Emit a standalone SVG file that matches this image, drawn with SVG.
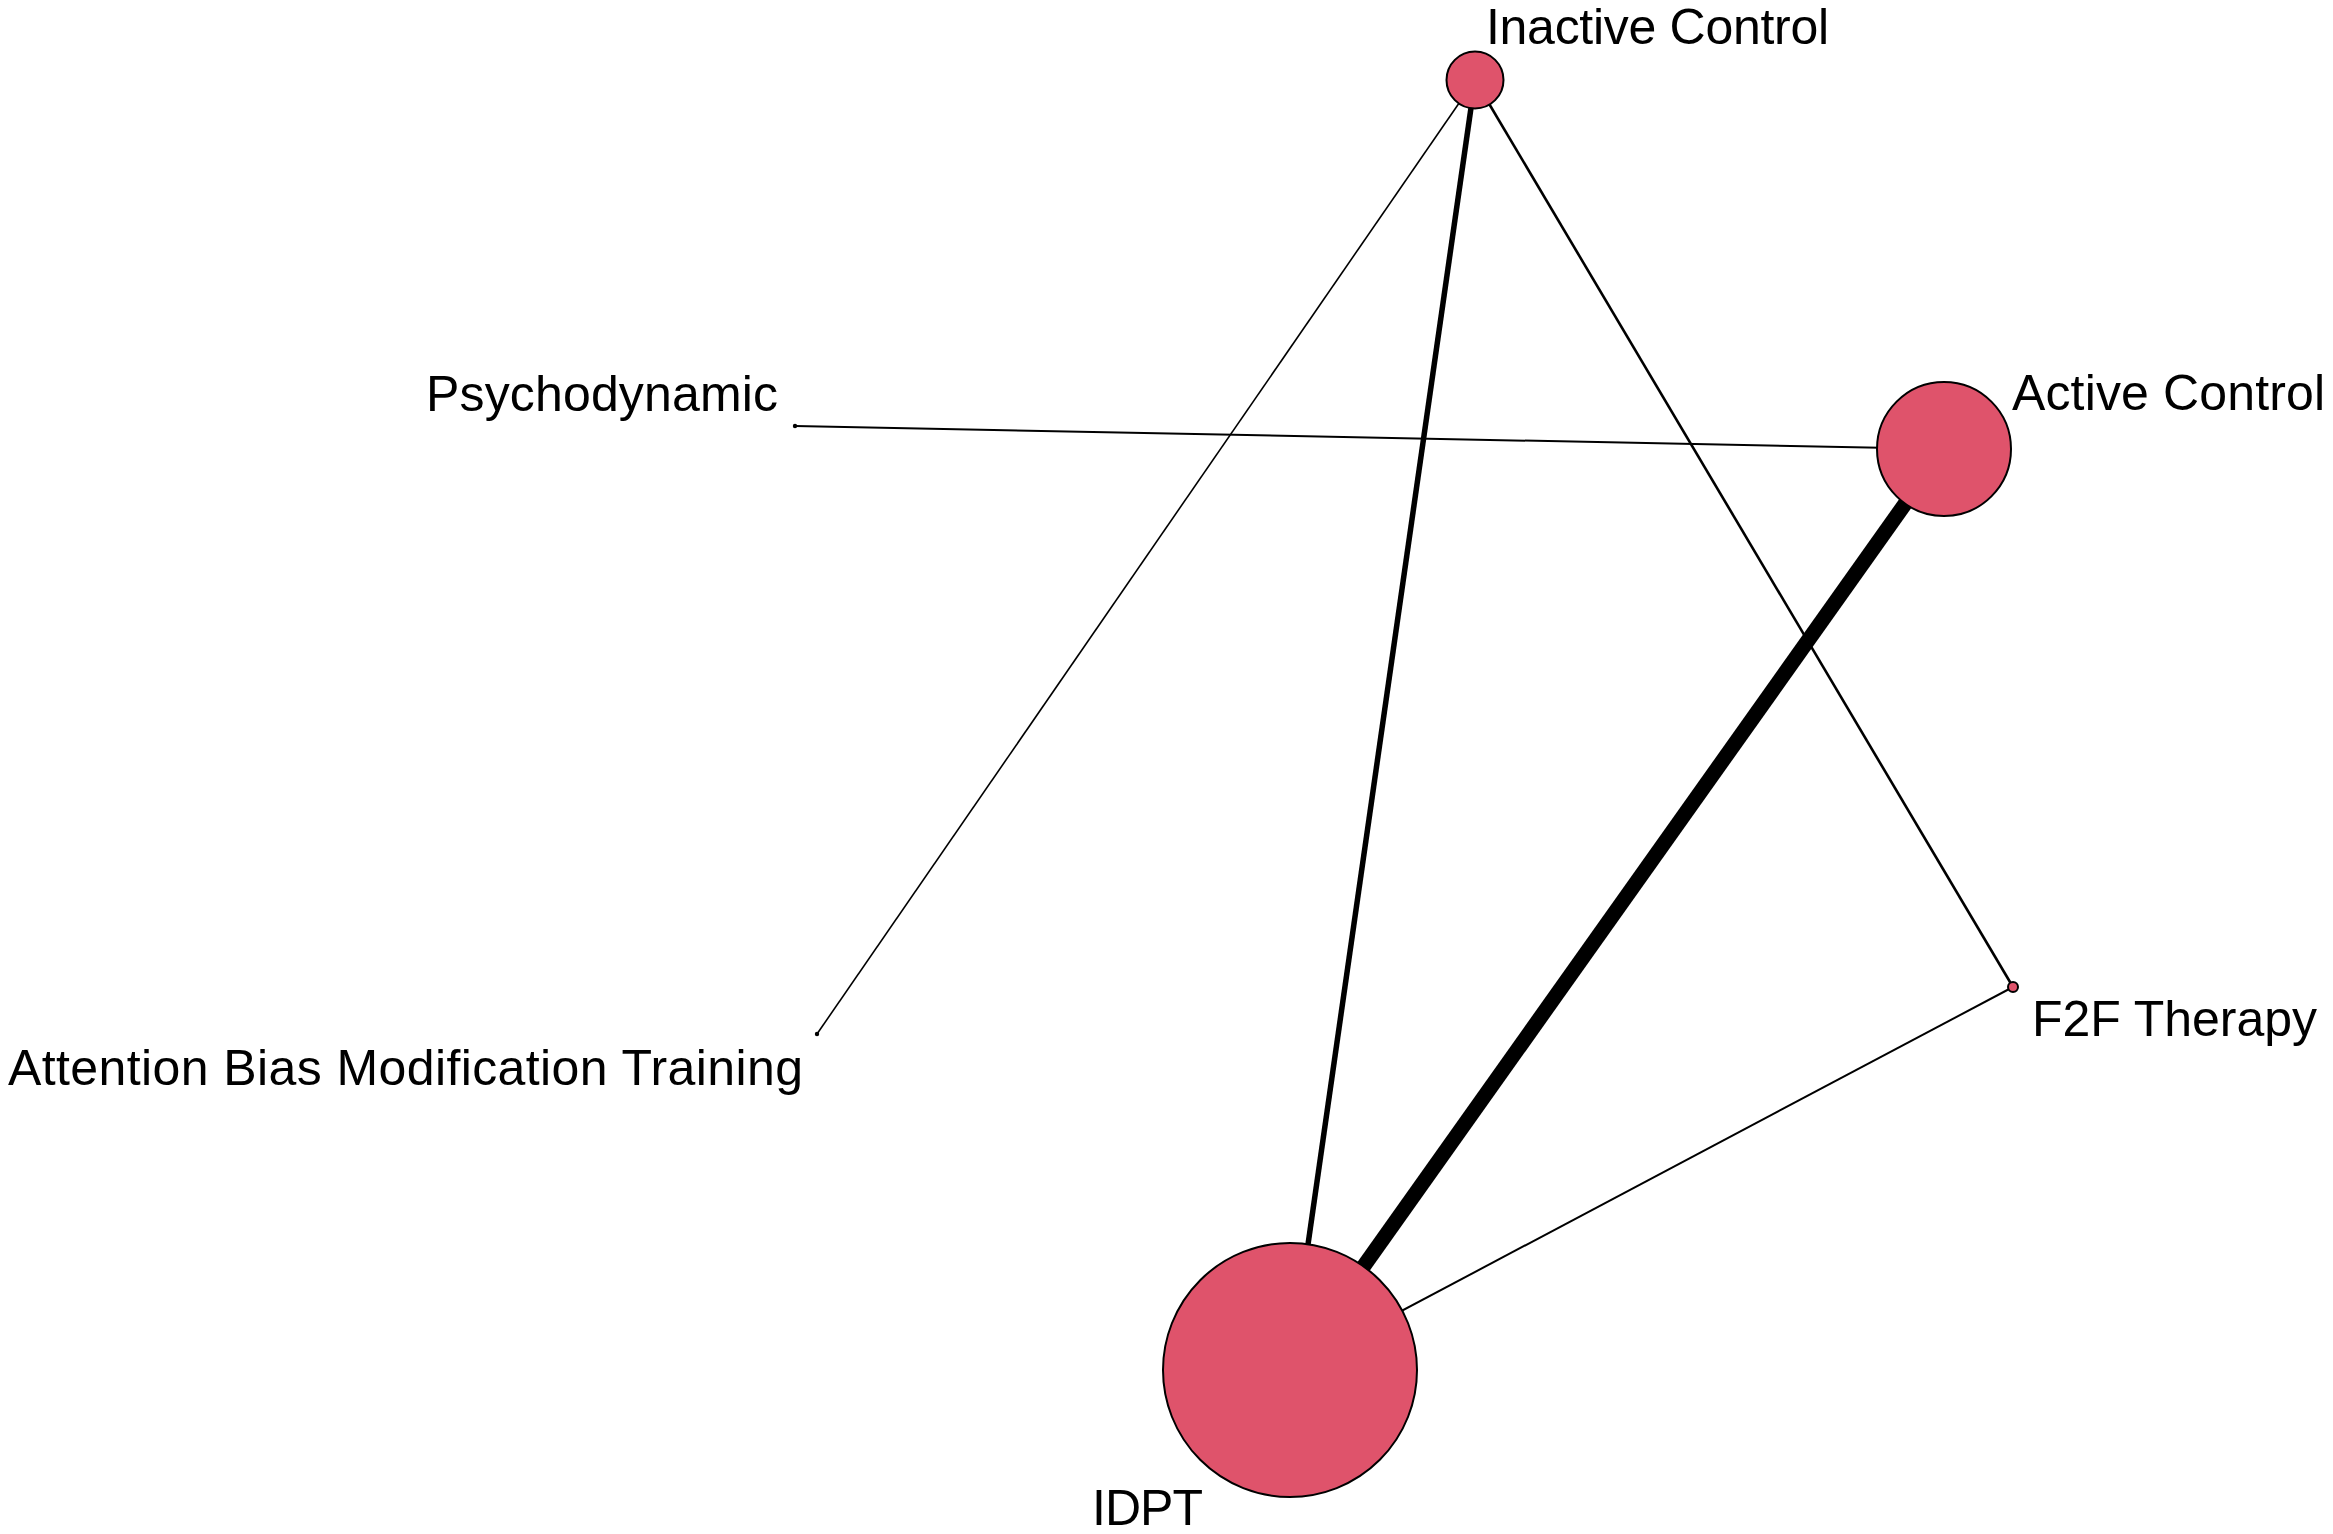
<svg xmlns="http://www.w3.org/2000/svg" width="2333" height="1534" viewBox="0 0 2333 1534">
<style>
.node{fill:#DF536B;stroke:#000;stroke-width:2}
.lbl{font-family:"Liberation Sans",Arial,sans-serif;font-size:50px;fill:#000}
.e{stroke:#000;stroke-linecap:butt;fill:none}
</style>
<rect width="2333" height="1534" fill="#fff"/>
<g id="connectors">
<line class="e" x1="1475" y1="80" x2="817" y2="1034" stroke-width="1.6"/>
<line class="e" x1="795" y1="426" x2="1944" y2="449" stroke-width="2"/>
<line class="e" x1="1475" y1="80" x2="2013" y2="987" stroke-width="2.6"/>
<line class="e" x1="2013" y1="987" x2="1290" y2="1370" stroke-width="2"/>
<line class="e" x1="1475" y1="80" x2="1290" y2="1370" stroke-width="5.5"/>
<line class="e" x1="1944" y1="449" x2="1290" y2="1370" stroke-width="15"/>
</g>
<g id="node-inactive-control">
<circle class="node" cx="1475" cy="80" r="28.5"/>
<text class="lbl" x="1486" y="44" textLength="343">Inactive Control</text>
</g>
<g id="node-active-control">
<circle class="node" cx="1944" cy="449" r="67"/>
<text class="lbl" x="2012" y="410" textLength="313">Active Control</text>
</g>
<g id="node-psychodynamic">
<circle cx="795" cy="426" r="2.2" fill="#000"/>
<text class="lbl" x="426" y="411" textLength="352">Psychodynamic</text>
</g>
<g id="node-abmt">
<circle cx="817" cy="1034" r="2.2" fill="#000"/>
<text class="lbl" x="8" y="1085" textLength="795">Attention Bias Modification Training</text>
</g>
<g id="node-f2f-therapy">
<circle class="node" cx="2013" cy="987" r="5"/>
<text class="lbl" x="2032" y="1036" textLength="285">F2F Therapy</text>
</g>
<g id="node-idpt">
<circle class="node" cx="1290" cy="1370" r="127"/>
<text class="lbl" x="1092" y="1525" textLength="111">IDPT</text>
</g>
</svg>
